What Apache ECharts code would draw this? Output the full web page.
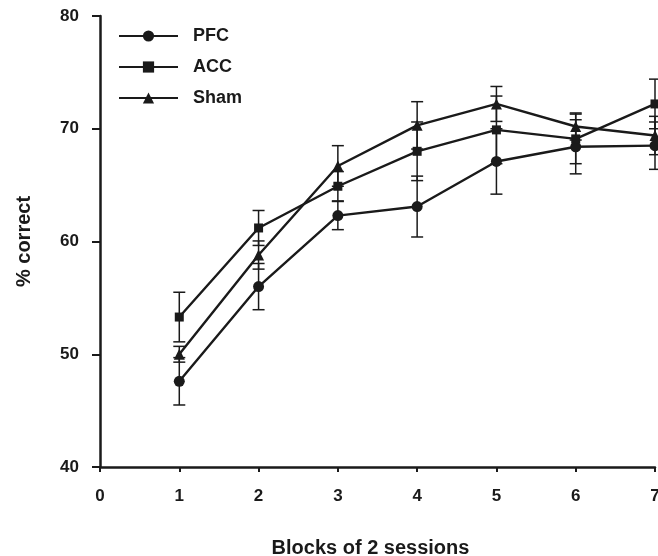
<!DOCTYPE html>
<html>
<head>
<meta charset="utf-8">
<script src="https://cdn.jsdelivr.net/npm/echarts@6/dist/echarts.min.js"></script>
<style>
html,body{margin:0;padding:0;background:#fff;}
#chart{width:658px;height:556px;}
</style>
</head>
<body>
<div id="chart"></div>
<script>
var blocks = [1, 2, 3, 4, 5, 6, 7];
var xTicks = [0, 1, 2, 3, 4, 5, 6, 7];
var yTicks = [40, 50, 60, 70, 80];
var pfc = [47.6, 56.0, 62.3, 63.1, 67.1, 68.4, 68.5];
var pfcErr = [2.1, 2.05, 1.25, 2.7, 2.9, 2.4, 2.1];
var acc = [53.3, 61.2, 64.9, 68.0, 69.9, 69.1, 72.2];
var accErr = [2.2, 1.55, 1.3, 2.6, 3.0, 2.2, 2.2];
var sham = [50.0, 58.8, 66.7, 70.3, 72.2, 70.2, 69.4];
var shamErr = [0.7, 1.25, 1.8, 2.1, 1.55, 1.2, 1.7];

var FONT = "'Liberation Sans', Arial, sans-serif";
var NARROW = "'Liberation Sans Narrow', 'Arial Narrow', 'Liberation Sans', sans-serif";
var INK = '#1a1a1a';

function pairs(vals) {
  return blocks.map(function (b, i) { return [b, vals[i]]; });
}
function errData(vals, errs) {
  return blocks.map(function (b, i) { return [b, vals[i] - errs[i], vals[i] + errs[i]]; });
}
function renderErr(params, api) {
  var x = api.value(0);
  var lo = api.coord([x, api.value(1)]);
  var hi = api.coord([x, api.value(2)]);
  var hw = 6;
  var st = { stroke: INK, lineWidth: 1.5 };
  return {
    type: 'group',
    children: [
      { type: 'line', shape: { x1: lo[0], y1: lo[1], x2: hi[0], y2: hi[1] }, style: st },
      { type: 'line', shape: { x1: lo[0] - hw, y1: lo[1], x2: lo[0] + hw, y2: lo[1] }, style: st },
      { type: 'line', shape: { x1: hi[0] - hw, y1: hi[1], x2: hi[0] + hw, y2: hi[1] }, style: st }
    ]
  };
}
function lineSeries(name, vals, symbol, size) {
  return {
    name: name, type: 'line', data: pairs(vals), symbol: symbol, symbolSize: size,
    lineStyle: { color: INK, width: 2.4 }, itemStyle: { color: INK },
    z: 3, animation: false
  };
}
function errSeries(vals, errs) {
  return {
    type: 'custom', data: errData(vals, errs), renderItem: renderErr,
    z: 2, animation: false, silent: true
  };
}

var chart = echarts.init(document.getElementById('chart'), null, { renderer: 'canvas' });
chart.setOption({
  backgroundColor: '#fff',
  animation: false,
  grid: { left: 100, right: 3, top: 16, bottom: 89, containLabel: false, outerBoundsMode: 'none' },
  legend: {
    data: ['PFC', 'ACC', 'Sham'],
    orient: 'vertical', left: 113, top: 22,
    itemWidth: 59, itemHeight: 14, itemGap: 13,
    textStyle: { fontFamily: NARROW, fontWeight: 'bold', fontSize: 18, color: INK, padding: [0, 0, 0, 10] }
  },
  xAxis: {
    type: 'value', min: 0, max: 7, interval: 1,
    name: 'Blocks of 2 sessions', nameLocation: 'middle', nameGap: 71,
    nameTextStyle: { fontFamily: FONT, fontWeight: 'bold', fontSize: 20, color: INK, padding: [0, 14, 0, 0] },
    axisLine: { show: true, lineStyle: { color: INK, width: 2.5 } },
    axisTick: { show: true, inside: false, length: 5, lineStyle: { color: INK, width: 2 } },
    axisLabel: {
      fontFamily: NARROW, fontWeight: 'bold', fontSize: 17, color: INK, margin: 21,
      formatter: function (v) { return xTicks.indexOf(v) >= 0 ? String(v) : ''; }
    },
    splitLine: { show: false }
  },
  yAxis: {
    type: 'value', min: 40, max: 80, interval: 10,
    name: '% correct', nameLocation: 'middle', nameGap: 66,
    nameTextStyle: { fontFamily: FONT, fontWeight: 'bold', fontSize: 20, color: INK },
    axisLine: { show: true, lineStyle: { color: INK, width: 2.5 } },
    axisTick: { show: true, inside: false, length: 8, lineStyle: { color: INK, width: 2 } },
    axisLabel: {
      fontFamily: NARROW, fontWeight: 'bold', fontSize: 17, color: INK, margin: 21,
      formatter: function (v) { return yTicks.indexOf(v) >= 0 ? String(v) : ''; }
    },
    splitLine: { show: false }
  },
  series: [
    errSeries(pfc, pfcErr),
    errSeries(acc, accErr),
    errSeries(sham, shamErr),
    lineSeries('PFC', pfc, 'circle', 11),
    lineSeries('ACC', acc, 'rect', 9),
    lineSeries('Sham', sham, 'triangle', 11)
  ]
});
</script>
</body>
</html>
